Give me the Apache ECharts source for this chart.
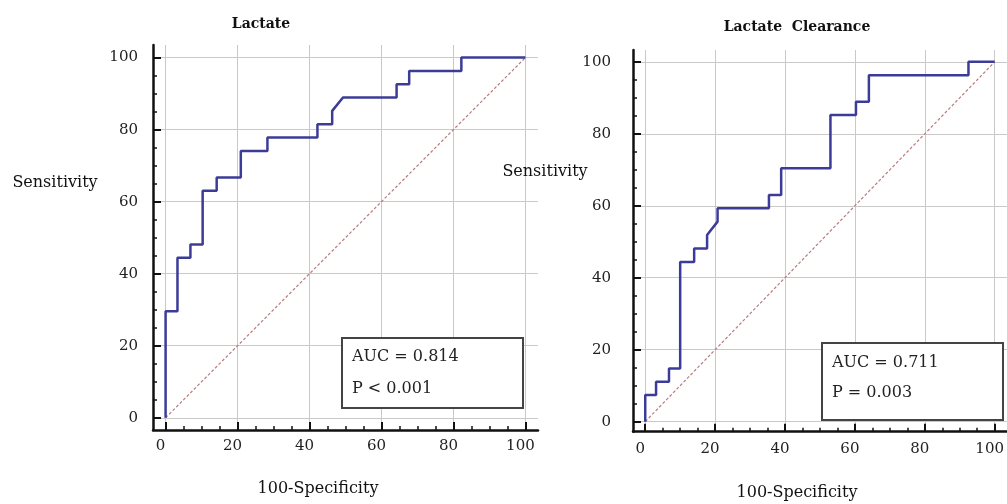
<!DOCTYPE html>
<html>
<head>
<meta charset="utf-8">
<script src="https://cdn.jsdelivr.net/npm/echarts@6/dist/echarts.min.js"></script>
<style>
  html, body { margin: 0; padding: 0; background: #fff; }
  #chart { width: 1007px; height: 504px; }
</style>
</head>
<body>
<div id="chart"></div>
<script>
// tick positions
var majorTicks = [0, 20, 40, 60, 80, 100];
var minorTicks = [0, 5, 10, 15, 20, 25, 30, 35, 40, 45, 50, 55, 60, 65, 70, 75, 80, 85, 90, 95, 100];

// Lactate ROC (100-specificity, sensitivity)
var lacX = [0, 0, 3.3, 3.3, 6.9, 6.9, 10.3, 10.3, 14.2, 14.2, 20.9, 20.9, 28.3, 28.3, 42.2, 42.2, 46.3, 46.3, 49.3, 64.2, 64.2, 67.7, 67.7, 82.2, 82.2, 100];
var lacY = [0, 29.6, 29.6, 44.4, 44.4, 48.1, 48.1, 63.0, 63.0, 66.7, 66.7, 74.1, 74.1, 77.8, 77.8, 81.5, 81.5, 85.2, 88.9, 88.9, 92.6, 92.6, 96.3, 96.3, 100, 100];

// Lactate clearance ROC
var clrX = [0, 0, 3.1, 3.1, 6.8, 6.8, 10.0, 10.0, 14.0, 14.0, 17.7, 17.7, 20.7, 20.7, 35.4, 35.4, 38.9, 38.9, 53.0, 53.0, 60.3, 60.3, 64.0, 64.0, 92.5, 92.5, 100];
var clrY = [0, 7.4, 7.4, 11.1, 11.1, 14.8, 14.8, 44.4, 44.4, 48.1, 48.1, 51.9, 55.6, 59.3, 59.3, 63.0, 63.0, 70.4, 70.4, 85.2, 85.2, 88.9, 88.9, 96.3, 96.3, 100, 100];

var titles = ['Lactate', 'Lactate  Clearance'];
var aucText = ['AUC = 0.814', 'AUC = 0.711'];
var pText = ['P < 0.001', 'P = 0.003'];

var FONT = 'DejaVu Serif';

function zip(xs, ys) {
  var out = [];
  for (var i = 0; i < xs.length; i++) out.push([xs[i], ys[i]]);
  return out;
}

function axes(dim, g, min, max, margin, pad) {
  var major = {
    type: 'value', gridIndex: g, min: min, max: max,
    axisLine: { show: true, onZero: false, lineStyle: { color: '#111', width: 2.5 } },
    axisTick: { show: true, inside: true, length: 8, customValues: majorTicks, lineStyle: { color: '#111', width: 2 } },
    axisLabel: { show: true, customValues: majorTicks, fontFamily: FONT, fontSize: 15, color: '#222', margin: margin, padding: pad },
    splitLine: { show: false }
  };
  var minor = {
    type: 'value', gridIndex: g, min: min, max: max,
    axisLine: { show: false, onZero: false },
    axisTick: { show: true, inside: true, length: 4, customValues: minorTicks, lineStyle: { color: '#111', width: 1.5 } },
    axisLabel: { show: false },
    splitLine: { show: false }
  };
  if (dim === 'x') { major.position = 'bottom'; minor.position = 'bottom'; }
  else { major.position = 'left'; minor.position = 'left'; }
  return [major, minor];
}

var gridLines = majorTicks.map(function (v) { return { xAxis: v }; })
  .concat(majorTicks.map(function (v) { return { yAxis: v }; }));

function seriesFor(g, xs, ys) {
  return [
    {
      type: 'line', xAxisIndex: g * 2, yAxisIndex: g * 2, z: 1,
      data: [[0, 0], [100, 100]], symbol: 'none', silent: true,
      lineStyle: { color: '#b87c7c', width: 1.2, type: [3, 2] },
      markLine: {
        silent: true, symbol: 'none', z: 0, animation: false,
        label: { show: false },
        lineStyle: { color: '#c9c9c9', width: 1, type: 'solid' },
        emphasis: { disabled: true },
        data: gridLines
      }
    },
    {
      type: 'line', xAxisIndex: g * 2, yAxisIndex: g * 2, z: 3,
      data: zip(xs, ys), symbol: 'none', silent: true,
      lineStyle: { color: '#3c3c98', width: 2.5 }
    }
  ];
}

function box(x, y, w, h, g, tx, ty1, ty2) {
  return [
    { type: 'rect', shape: { x: x, y: y, width: w, height: h }, style: { fill: '#fff', stroke: '#444', lineWidth: 2 }, z: 10 },
    { type: 'text', x: tx, y: ty1, style: { text: aucText[g], font: '16px "' + FONT + '"', fill: '#222', textVerticalAlign: 'middle' }, z: 11 },
    { type: 'text', x: tx, y: ty2, style: { text: pText[g], font: '16px "' + FONT + '"', fill: '#222', textVerticalAlign: 'middle' }, z: 11 }
  ];
}

function label(text, x, y, bold) {
  return { type: 'text', x: x, y: y, z: 11,
    style: { text: text, font: (bold ? 'bold 14px "' : '16px "') + FONT + '"', fill: '#111', textAlign: 'center', textVerticalAlign: 'middle' } };
}

var xA = axes('x', 0, -3.5, 103.5, 9, [0, 10, 0, 0]).concat(axes('x', 1, -3.5, 103.5, 10, [0, 10, 0, 0]));
var yA = axes('y', 0, -3.4, 103.5, 15, 0).concat(axes('y', 1, -2.8, 103.3, 22, 0));

var chart = echarts.init(document.getElementById('chart'));
chart.setOption({
  animation: false,
  backgroundColor: '#fff',
  grid: [
    { left: 153, top: 45, width: 385, height: 385 },
    { left: 633, top: 50, width: 383.5, height: 381.7 }
  ],
  xAxis: xA,
  yAxis: yA,
  series: seriesFor(0, lacX, lacY).concat(seriesFor(1, clrX, clrY)),
  graphic: [
    label(titles[0], 261, 24, true),
    label(titles[1], 797, 27, true),
    label('Sensitivity', 55, 183, false),
    label('Sensitivity', 545, 172, false),
    label('100-Specificity', 318, 489, false),
    label('100-Specificity', 797, 493, false)
  ].concat(box(342, 338, 181, 70, 0, 352, 357, 389))
   .concat(box(822, 343, 181, 77, 1, 832, 363, 393))
});
</script>
</body>
</html>
